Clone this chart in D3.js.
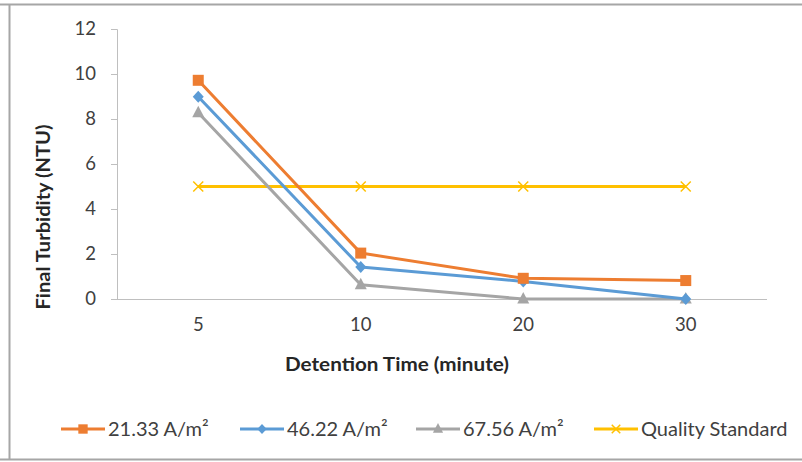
<!DOCTYPE html>
<html><head><meta charset="utf-8">
<script src="https://cdn.jsdelivr.net/npm/d3@7"></script>
<style>body{margin:0;background:#fff}svg{display:block;font-family:Lato,"Open Sans",sans-serif}</style>
</head><body>
<script>
const categories = ["5","10","20","30"];
const s1 = [9.72, 2.04, 0.92, 0.82];
const s2 = [8.99, 1.42, 0.78, 0.0];
const s3 = [8.28, 0.63, 0.0, 0.0];
const s4 = [5, 5, 5, 5];
const seriesNames = ["21.33 A/m²","46.22 A/m²","67.56 A/m²","Quality Standard"];
const yTicks = [0,2,4,6,8,10,12];

const colors = ["#ED7D31","#5B9BD5","#A5A5A5","#FFC000"];
const markers = ["square","diamond","triangle","x"];
const series = [s1,s2,s3,s4].map((v,i)=>({name:seriesNames[i],values:v,color:colors[i],marker:markers[i]}));

const W=802,H=462;
const svg=d3.select("body").append("svg").attr("width",W).attr("height",H);
svg.append("rect").attr("width",W).attr("height",H).attr("fill","#fff");
svg.append("path").attr("d",`M0,4.5H802M9.5,4.5V459.5M0,459.5H802`).attr("stroke","#a6a6a6").attr("stroke-width",2).attr("fill","none");

const x=d3.scaleBand().domain(categories).range([117,767]);
const y=d3.scaleLinear().domain([0,12]).range([299,29]);

const ya=svg.append("g").attr("transform","translate(117,0)").call(d3.axisLeft(y).tickValues(yTicks).tickSize(6).tickPadding(15));
ya.selectAll("path,line").attr("stroke","#bfbfbf");
ya.selectAll("text").attr("font-size",18.5).attr("fill","#404040").attr("font-family","Lato");
const xa=svg.append("g").attr("transform","translate(0,299)").call(d3.axisBottom(x).tickSize(0).tickPadding(19));
xa.selectAll("path").attr("stroke","#bfbfbf").attr("d","M117,0.5H767");
xa.selectAll("text").attr("font-size",18.5).attr("fill","#404040").attr("font-family","Lato");

svg.append("text").attr("x",397).attr("y",371).attr("text-anchor","middle").attr("font-weight","bold").attr("font-size",19).attr("fill","#262626")
  .attr("textLength",224).attr("lengthAdjust","spacingAndGlyphs").text("Detention Time (minute)");
svg.append("text").attr("transform","translate(50,217) rotate(-90)").attr("text-anchor","middle").attr("font-weight","bold").attr("font-size",19).attr("fill","#262626")
  .attr("textLength",185).attr("lengthAdjust","spacingAndGlyphs").text("Final Turbidity (NTU)");

function drawMarker(g,type,color,cx,cy,s){
  if(type==="square") g.append("rect").attr("x",cx-5.5*s).attr("y",cy-5.5*s).attr("width",11*s).attr("height",11*s).attr("fill",color);
  else if(type==="diamond") g.append("path").attr("d",`M${cx},${cy-6*s}L${cx+5.5*s},${cy}L${cx},${cy+6*s}L${cx-5.5*s},${cy}Z`).attr("fill",color);
  else if(type==="triangle") g.append("path").attr("d",`M${cx},${cy-7*s}L${cx+6*s},${cy+4.5*s}L${cx-6*s},${cy+4.5*s}Z`).attr("fill",color);
  else g.append("path").attr("d",`M${cx-5*s},${cy-5*s}L${cx+5*s},${cy+5*s}M${cx+5*s},${cy-5*s}L${cx-5*s},${cy+5*s}`).attr("stroke",color).attr("stroke-width",1.5);
}

const line=d3.line().x((d,i)=>x(categories[i])+x.bandwidth()/2).y(d=>y(d));
series.slice().reverse().forEach(s=>{
  const g=svg.append("g");
  g.append("path").datum(s.values).attr("d",line).attr("fill","none").attr("stroke",s.color).attr("stroke-width",3).attr("stroke-linejoin","round");
  s.values.forEach((v,i)=>drawMarker(g,s.marker,s.color,x(categories[i])+x.bandwidth()/2,y(v),1));
});

const legX=[61,240,416,594];
series.forEach((s,i)=>{
  const g=svg.append("g");
  const ly=429;
  g.append("line").attr("x1",legX[i]).attr("x2",legX[i]+44).attr("y1",ly).attr("y2",ly).attr("stroke",s.color).attr("stroke-width",3);
  drawMarker(g,s.marker,s.color,legX[i]+22,ly,0.85);
  g.append("text").attr("x",legX[i]+47).attr("y",ly+7).attr("font-size",20).attr("fill","#404040").text(s.name);
});
</script>
</body></html>
